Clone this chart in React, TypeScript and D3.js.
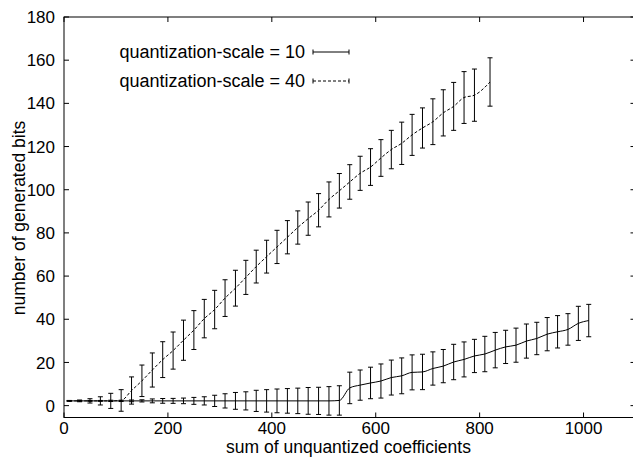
import React from "react";
import * as d3 from "d3";

const W = 633;
const H = 458;

const xTicks = [0, 200, 400, 600, 800, 1000];
const yTicks = [0, 20, 40, 60, 80, 100, 120, 140, 160, 180];

const xLabel = "sum of unquantized coefficients";
const yLabel = "number of generated bits";
const legendLabels = ["quantization-scale = 10", "quantization-scale = 40"];

// series drawn solid (stays low, rises after ~530)
const lowX = [10, 30, 50, 70, 90, 110, 130, 150, 170, 190, 210, 230, 250, 270, 290, 310, 330, 350, 370, 390, 410, 430, 450, 470, 490, 510,
  530, 550, 570, 590, 610, 630, 650, 670, 690, 710, 730, 750, 770, 790, 810, 830, 850, 870, 890, 910, 930, 950, 970, 990, 1010];
const lowY = [2.2, 2.2, 2.2, 2.2, 2.2, 2.2, 2.2, 2.2, 2.2, 2.2, 2.2, 2.2, 2.2, 2.2, 2.2, 2.2, 2.2, 2.2, 2.2, 2.2, 2.2, 2.2, 2.2, 2.2, 2.2, 2.2,
  2.4, 8.2, 9.5, 10.5, 11.4, 13.0, 13.8, 15.4, 15.6, 17.2, 18.3, 20.2, 21.4, 23.0, 23.9, 25.7, 27.2, 28.0, 29.9, 31.1, 33.1, 34.2, 35.3, 38.1, 39.4];
const lowErr = [0.1, 0.1, 0.2, 0.2, 0.3, 0.3, 0.4, 0.5, 0.9, 1.1, 1.15, 1.3, 1.6, 1.9, 2.6, 3.3, 3.9, 4.2, 4.9, 5.2, 5.5, 5.7, 5.9, 6.2, 6.3, 6.6,
  6.8, 7.3, 7.0, 7.3, 7.9, 8.1, 8.3, 8.1, 8.2, 7.7, 7.7, 8.2, 8.1, 7.7, 8.2, 8.2, 7.7, 7.9, 7.9, 7.5, 7.7, 7.5, 7.3, 7.9, 7.5];

// series drawn dashed (rises steeply after ~110)
const steepX = [10, 30, 50, 70, 90, 110, 130, 150, 170, 190, 210, 230, 250, 270, 290, 310, 330, 350, 370, 390, 410, 430, 450, 470, 490,
  510, 530, 550, 570, 590, 610, 630, 650, 670, 690, 710, 730, 750, 770, 790, 820];
const steepY = [2.2, 2.2, 2.2, 2.2, 2.2, 2.4, 7.0, 11.5, 16.5, 21.3, 25.5, 30.3, 35.0, 40.3, 44.5, 49.8, 54.4, 59.4, 64.4, 69.0, 73.5, 78.0, 82.5, 86.6, 90.5,
  95.5, 99.5, 103.6, 107.6, 110.5, 114.7, 118.6, 121.5, 125.4, 128.6, 131.5, 135.6, 138.6, 142.7, 143.8, 149.9];
const steepErr = [0.2, 0.4, 1.0, 1.9, 3.5, 5.0, 6.3, 7.3, 7.9, 8.3, 8.6, 9.3, 9.0, 8.9, 8.9, 8.5, 8.3, 7.9, 7.6, 7.6, 7.7, 7.7, 7.7, 7.7, 7.7,
  8.1, 8.0, 8.0, 7.9, 8.5, 8.5, 8.9, 9.8, 9.5, 9.3, 10.6, 10.7, 11.1, 12.0, 12.1, 11.2];

const FONT = "'Liberation Sans', Arial, Helvetica, sans-serif";

export default function App() {
  const x = d3.scaleLinear().domain([0, 1100]).range([64, 635.5]);
  const y = d3.scaleLinear().domain([-5.5, 180]).range([417.5, 17]);
  const left = x(0), right = x(1100), top = y(180), bottom = y(-5.5);
  const tickLen = 5;
  const cap = 2.5;

  const line = d3.line<[number, number]>().x(d => x(d[0])).y(d => y(d[1])).curve(d3.curveMonotoneX);

  const lowPts: [number, number][] = lowX.map((v, i) => [v, lowY[i]]);
  const steepPts: [number, number][] = steepX.map((v, i) => [v, steepY[i]]);

  const bars = (xs: number[], ys: number[], es: number[], key: string) =>
    xs.map((v, i) => {
      const px = x(v);
      const y1 = y(ys[i] + es[i]);
      const y2 = y(ys[i] - es[i]);
      return (
        <g key={key + i}>
          <line x1={px} x2={px} y1={y1} y2={y2} stroke="#000" strokeWidth={1} />
          <line x1={px - cap} x2={px + cap} y1={y1} y2={y1} stroke="#000" strokeWidth={1} />
          <line x1={px - cap} x2={px + cap} y1={y2} y2={y2} stroke="#000" strokeWidth={1} />
        </g>
      );
    });

  const legendRows = [
    { label: legendLabels[0], yy: 52, dash: undefined as string | undefined },
    { label: legendLabels[1], yy: 81, dash: "3,2" },
  ];

  return (
    <div style={{ position: "absolute", left: 0, top: 0 }}>
      <svg width={W} height={H} style={{ display: "block", background: "#fff" }} fontFamily={FONT}>
        <rect x={0} y={0} width={W} height={H} fill="#fff" />
        {/* frame */}
        <rect x={left} y={top} width={right - left} height={bottom - top} fill="none" stroke="#000" strokeWidth={1} />
        {/* x ticks */}
        {xTicks.map(t => (
          <g key={"xt" + t}>
            <line x1={x(t)} x2={x(t)} y1={bottom} y2={bottom - tickLen} stroke="#000" />
            <line x1={x(t)} x2={x(t)} y1={top} y2={top + tickLen} stroke="#000" />
            <text x={x(t)} y={bottom + 16} textAnchor="middle" fontSize={17}>{t}</text>
          </g>
        ))}
        {/* y ticks */}
        {yTicks.map(t => (
          <g key={"yt" + t}>
            <line x1={left} x2={left + tickLen} y1={y(t)} y2={y(t)} stroke="#000" />
            <line x1={right} x2={right - tickLen} y1={y(t)} y2={y(t)} stroke="#000" />
            <text x={left - 9} y={y(t)} dy="0.36em" textAnchor="end" fontSize={17}>{t}</text>
          </g>
        ))}
        {/* axis labels */}
        <text x={348.5} y={453} textAnchor="middle" fontSize={17.5}>{xLabel}</text>
        <text transform={`translate(25,218) rotate(-90)`} textAnchor="middle" fontSize={17.5}>{yLabel}</text>

        {/* series */}
        <path d={line(lowPts) || ""} fill="none" stroke="#000" strokeWidth={1} />
        <path d={line(steepPts) || ""} fill="none" stroke="#000" strokeWidth={1} strokeDasharray="3,2" />
        {bars(lowX, lowY, lowErr, "lb")}
        {bars(steepX, steepY, steepErr, "sb")}

        {/* legend */}
        {legendRows.map((r, i) => (
          <g key={"lg" + i}>
            <text x={305} y={r.yy} dy="0.36em" textAnchor="end" fontSize={18}>{r.label}</text>
            <line x1={313} x2={349} y1={r.yy} y2={r.yy} stroke="#000" strokeDasharray={r.dash} />
            <line x1={313} x2={313} y1={r.yy - cap} y2={r.yy + cap} stroke="#000" />
            <line x1={349} x2={349} y1={r.yy - cap} y2={r.yy + cap} stroke="#000" />
          </g>
        ))}
      </svg>
    </div>
  );
}
